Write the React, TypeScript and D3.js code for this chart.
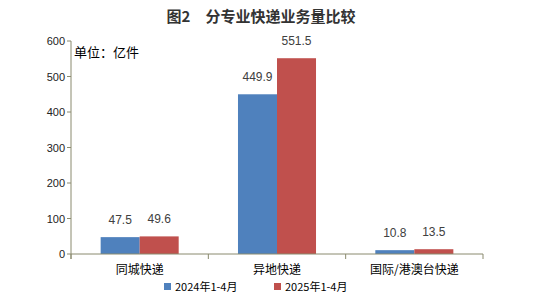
import React from "react";
import * as d3 from "d3";

const categories = ["同城快递", "异地快递", "国际/港澳台快递"];
const seriesNames = ["2024年1-4月", "2025年1-4月"];
const values2024 = [47.5, 449.9, 10.8];
const values2025 = [49.6, 551.5, 13.5];
const yTicks = [0, 100, 200, 300, 400, 500, 600];
const colors = ["#4F81BD", "#C0504D"];

const W = 548, H = 299;
const left = 71, right = 483, top = 41, bottom = 254;
const font = "'Liberation Sans', Arial, 'Noto Sans CJK SC', sans-serif";

export default function App() {
  const x = d3.scaleBand<string>().domain(categories).range([left, right]).paddingInner(0).paddingOuter(0);
  const y = d3.scaleLinear().domain([0, 600]).range([bottom, top]);
  const inner = d3.scaleBand<string>().domain(seriesNames).range([0, x.bandwidth()]).paddingInner(0).paddingOuter(0.76);
  const series = [values2024, values2025];
  const axisColor = "#8A8A6E";
  return (
    <svg width={W} height={H} style={{ position: "absolute", left: 0, top: 0, background: "#fff" }}>
      <text x={261} y={22} textAnchor="middle" fontFamily="'Noto Sans CJK SC', sans-serif" fontSize={15} fontWeight="bold" fill="#333">
        图2　分专业快递业务量比较
      </text>
      <text x={74} y={57} fontFamily="'Noto Sans CJK SC', sans-serif" fontSize={13} fill="#000">单位：亿件</text>
      {series.map((vals, si) =>
        categories.map((c, ci) => {
          const bx = (x(c) as number) + (inner(seriesNames[si]) as number);
          const bw = inner.bandwidth();
          return (
            <g key={`${si}-${ci}`}>
              <rect x={bx} y={y(vals[ci])} width={bw} height={bottom - y(vals[ci])} fill={colors[si]} />
              <text x={bx + bw / 2} y={y(vals[ci]) - 13} textAnchor="middle" fontFamily={font} fontSize={12} fill="#404040">
                {vals[ci]}
              </text>
            </g>
          );
        })
      )}
      <line x1={left} x2={left} y1={top} y2={bottom + 5} stroke={axisColor} />
      <line x1={left} x2={right} y1={bottom} y2={bottom} stroke={axisColor} />
      {yTicks.map((t) => (
        <g key={t}>
          <line x1={left - 4} x2={left} y1={y(t)} y2={y(t)} stroke={axisColor} />
          <text x={left - 6} y={y(t) + 4} textAnchor="end" fontFamily={font} fontSize={11} fill="#222">{t}</text>
        </g>
      ))}
      {[...categories.map((c) => x(c) as number), right].map((px, i) => (
        <line key={i} x1={px} x2={px} y1={bottom} y2={bottom + 5} stroke={axisColor} />
      ))}
      {categories.map((c) => (
        <text key={c} x={(x(c) as number) + x.bandwidth() / 2} y={274} textAnchor="middle" fontFamily="'Noto Sans CJK SC', sans-serif" fontSize={12} fill="#000">
          {c}
        </text>
      ))}
      {seriesNames.map((s, i) => {
        const lx = [164, 274][i];
        return (
          <g key={s}>
            <rect x={lx} y={283} width={7} height={7} fill={colors[i]} />
            <text x={lx + 11} y={291} fontFamily="'Noto Sans CJK SC', sans-serif" fontSize={11} fill="#000">{s}</text>
          </g>
        );
      })}
    </svg>
  );
}
